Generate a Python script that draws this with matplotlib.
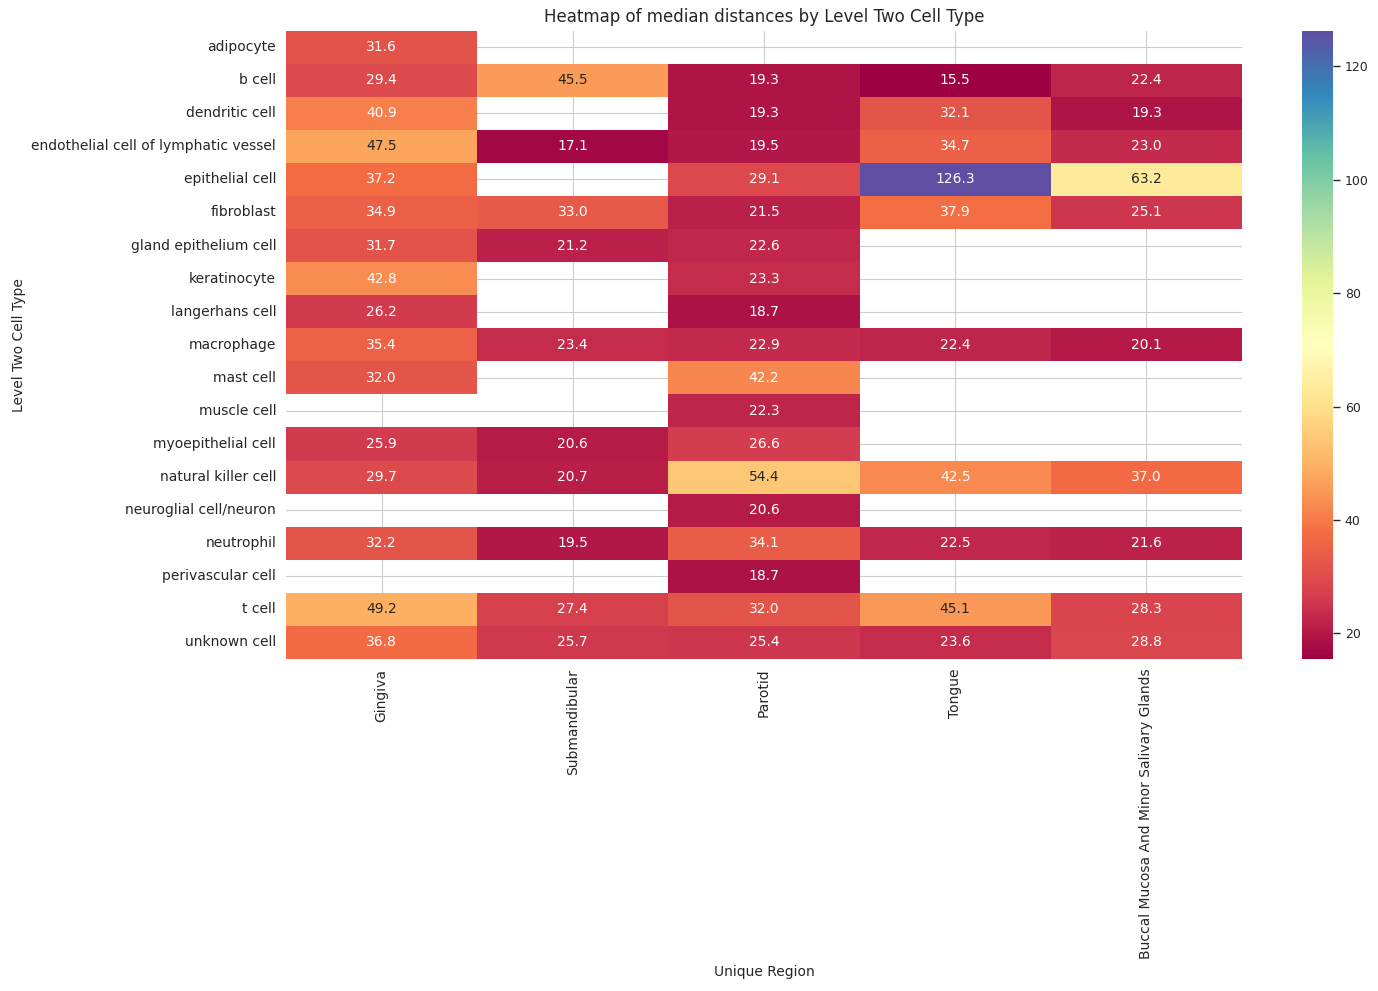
import matplotlib
matplotlib.use("Agg")
import matplotlib.pyplot as plt
import numpy as np
import pandas as pd
import seaborn as sns

nan = np.nan

cell_types = [
    "adipocyte", "b cell", "dendritic cell", "endothelial cell of lymphatic vessel",
    "epithelial cell", "fibroblast", "gland epithelium cell", "keratinocyte",
    "langerhans cell", "macrophage", "mast cell", "muscle cell", "myoepithelial cell",
    "natural killer cell", "neuroglial cell/neuron", "neutrophil", "perivascular cell",
    "t cell", "unknown cell",
]
regions = ["Gingiva", "Submandibular", "Parotid", "Tongue",
           "Buccal Mucosa And Minor Salivary Glands"]

gingiva = [31.6, 29.4, 40.9, 47.5, 37.2, 34.9, 31.7, 42.8, 26.2, 35.4, 32.0, nan,
           25.9, 29.7, nan, 32.2, nan, 49.2, 36.8]
submandibular = [nan, 45.5, nan, 17.1, nan, 33.0, 21.2, nan, nan, 23.4, nan, nan,
                 20.6, 20.7, nan, 19.5, nan, 27.4, 25.7]
parotid = [nan, 19.3, 19.3, 19.5, 29.1, 21.5, 22.6, 23.3, 18.7, 22.9, 42.2, 22.3,
           26.6, 54.4, 20.6, 34.1, 18.7, 32.0, 25.4]
tongue = [nan, 15.5, 32.1, 34.7, 126.3, 37.9, nan, nan, nan, 22.4, nan, nan,
          nan, 42.5, nan, 22.5, nan, 45.1, 23.6]
buccal = [nan, 22.4, 19.3, 23.0, 63.2, 25.1, nan, nan, nan, 20.1, nan, nan,
          nan, 37.0, nan, 21.6, nan, 28.3, 28.8]

df = pd.DataFrame({
    regions[0]: gingiva,
    regions[1]: submandibular,
    regions[2]: parotid,
    regions[3]: tongue,
    regions[4]: buccal,
}, index=cell_types)

sns.set_style("whitegrid")

fig = plt.figure(figsize=(13.78, 9.91))
ax = fig.add_axes([0.2075, 0.335, 0.6938, 0.6342])
cax = fig.add_axes([0.9448, 0.335, 0.0225, 0.6342])
sns.heatmap(df, annot=True, fmt=".1f", cmap="Spectral", ax=ax, cbar_ax=cax)
ax.set_title("Heatmap of median distances by Level Two Cell Type")
ax.set_xlabel("Unique Region")
ax.set_ylabel("Level Two Cell Type")
ax.tick_params(axis="x", rotation=90)
cax.tick_params(labelsize=9, length=5, width=1, color="#262626")

fig.savefig("out.png", dpi=100)
